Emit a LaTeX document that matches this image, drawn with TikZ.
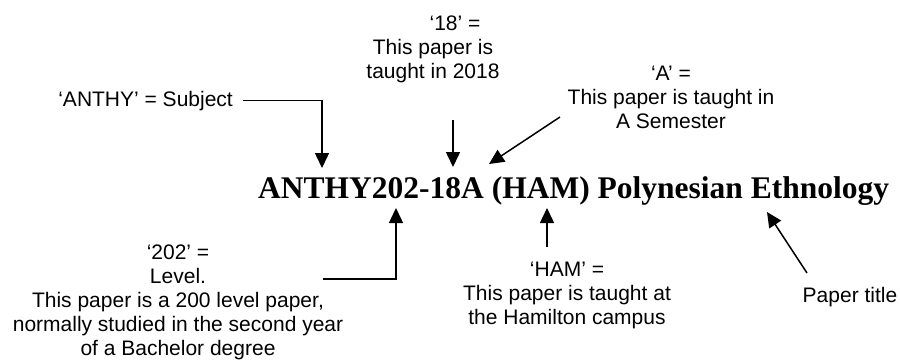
\documentclass[tikz,border=0pt]{standalone}
\usepackage{fontspec}
\setmainfont{Liberation Sans}
\newfontfamily\titlefont{Liberation Serif}
\usepackage{tikz}
\usetikzlibrary{arrows.meta,positioning}

\begin{document}
\begin{tikzpicture}[x=1pt, y=-1pt,
		note/.style={align=center, anchor=base, font=\fontsize{21}{23.8}\selectfont},
		pointer/.style={-{Triangle[width=14pt,length=15pt]}, line width=1.5pt}]
			\useasboundingbox (0,0) rectangle (900,362);

			% title line, arrows point at its parts
			\node [anchor=base west, inner sep=0, font=\titlefont\bfseries\fontsize{31.5}{36}\selectfont] (title) at (258,198) {ANTHY202-18A (HAM) Polynesian Ethnology};

			% labels, placed by the baseline of their last line
			\node [note, anchor=base west, outer xsep=7pt] (subject) at (48,106) {`ANTHY' = Subject};
			\node [note] (year) at (433,78) {\hspace*{44pt}`18' =\\This paper is\\taught in 2018};
			\node [note] (semester) at (671,128) {`A' =\\This paper is taught in\\A Semester};
			\node [note] (level) at (178,355) {`202' =\\Level.\\This paper is a 200 level paper,\\normally studied in the second year\\of a Bachelor degree};
			\node [note] (campus) at (567,324) {`HAM' =\\This paper is taught at\\the Hamilton campus};
			\node [note] (papertitle) at (850,302) {Paper title};

			\coordinate (subjecttip) at (322,168);
			\coordinate (yeartail) at (453,120);
			\coordinate (yeartip) at (453,167);
			\coordinate (semestertail) at (560,117);
			\coordinate (semestertip) at (489,164);
			\coordinate (leveltail) at (323,279);
			\coordinate (leveltip) at (396,208);
			\coordinate (campustail) at (547,247);
			\coordinate (campustip) at (547,208);
			\coordinate (papertitletail) at (807,273);
			\coordinate (papertitletip) at (767,212);

			\draw [pointer] (subject.east) -| (subjecttip);
			\draw [pointer] (yeartail) to (yeartip);
			\draw [pointer] (semestertail) to (semestertip);
			\draw [pointer] (leveltail) -| (leveltip);
			\draw [pointer] (campustail) to (campustip);
			\draw [pointer] (papertitletail) to (papertitletip);
		\end{tikzpicture}
\end{document}
